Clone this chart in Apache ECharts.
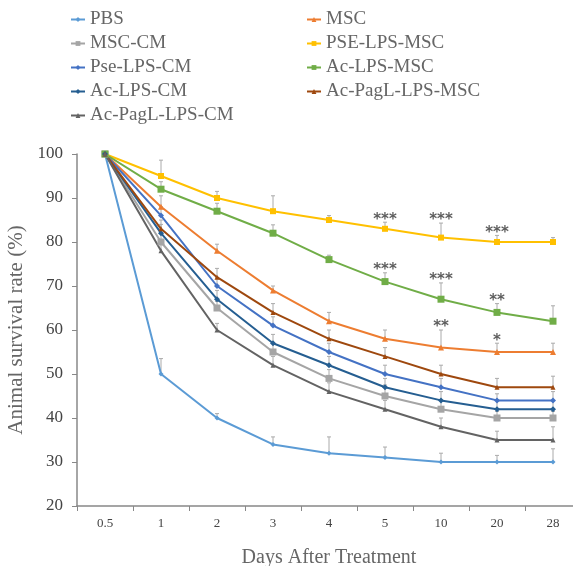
<!DOCTYPE html>
<html><head><meta charset="utf-8">
<script src="https://cdn.jsdelivr.net/npm/echarts@6/dist/echarts.min.js"></script>
<style>html,body{margin:0;padding:0;background:#fff}#c{width:573px;height:566px}</style>
</head><body><div id="c"></div>
<script>
const days = ['0.5','1','2','3','4','5','10','20','28'];
const yTicks = [20,30,40,50,60,70,80,90,100];

const pbs       = [100, 50, 40, 34, 32, 31, 30, 30, 30];
const msc       = [100, 88, 78, 69, 62, 58, 56, 55, 55];
const mscCm     = [100, 80, 65, 55, 49, 45, 42, 40, 40];
const pseLpsMsc = [100, 95, 90, 87, 85, 83, 81, 80, 80];
const pseLpsCm  = [100, 86, 70, 61, 55, 50, 47, 44, 44];
const acLpsMsc  = [100, 92, 87, 82, 76, 71, 67, 64, 62];
const acLpsCm   = [100, 82, 67, 57, 52, 47, 44, 42, 42];
const acPagLMsc = [100, 83, 72, 64, 58, 54, 50, 47, 47];
const acPagLCm  = [100, 78, 60, 52, 46, 42, 38, 35, 35];

const pbsErr       = [0, 3.5, 1, 1.7, 3.7, 2.4, 2, 1.5, 3];
const mscErr       = [0, 2.5, 1.5, 1, 2, 2, 4, 2, 2];
const mscCmErr     = [0, 2, 1.5, 2, 2, 2.5, 2, 1.5, 1.5];
const pseLpsMscErr = [0, 3.6, 1.5, 3.5, 1, 1.5, 3.3, 1.5, 1];
const pseLpsCmErr  = [0, 2, 2, 2, 2, 2, 2, 1.5, 2];
const acLpsMscErr  = [0, 1.7, 1.8, 1.9, 1, 2, 3.7, 2, 3.5];
const acLpsCmErr   = [0, 2, 2, 2, 2, 2, 2, 2, 2];
const acPagLMscErr = [0, 2, 2, 2, 2, 2, 2, 2, 2.5];
const acPagLCmErr  = [0, 2, 1.5, 2, 2, 2, 2, 2, 3];

const pseLpsMscStars = ['', '', '', '', '', '***', '***', '***', ''];
const acLpsMscStars  = ['', '', '', '', '', '***', '***', '**', ''];
const mscStars       = ['', '', '', '', '', '', '**', '*', ''];

const groups = [
  {name:'PBS', v:pbs, e:pbsErr, color:'#5b9bd5', sym:'diamond', size:5},
  {name:'MSC', v:msc, e:mscErr, color:'#ed7d31', sym:'triangle', size:6},
  {name:'MSC-CM', v:mscCm, e:mscCmErr, color:'#a5a5a5', sym:'rect', size:7},
  {name:'PSE-LPS-MSC', v:pseLpsMsc, e:pseLpsMscErr, color:'#ffc000', sym:'rect', size:6},
  {name:'Pse-LPS-CM', v:pseLpsCm, e:pseLpsCmErr, color:'#4472c4', sym:'diamond', size:6},
  {name:'Ac-LPS-MSC', v:acLpsMsc, e:acLpsMscErr, color:'#70ad47', sym:'rect', size:7},
  {name:'Ac-LPS-CM', v:acLpsCm, e:acLpsCmErr, color:'#255e91', sym:'diamond', size:6},
  {name:'Ac-PagL-LPS-MSC', v:acPagLMsc, e:acPagLMscErr, color:'#9e480e', sym:'triangle', size:5},
  {name:'Ac-PagL-LPS-CM', v:acPagLCm, e:acPagLCmErr, color:'#636363', sym:'triangle', size:5}
];
const starSets = [
  {v:pseLpsMsc, e:pseLpsMscErr, s:pseLpsMscStars},
  {v:acLpsMsc, e:acLpsMscErr, s:acLpsMscStars},
  {v:msc, e:mscErr, s:mscStars}
];

const font = 'Liberation Serif';
const series = [];
groups.forEach(g => {
  series.push({
    name: g.name + ' SD', type: 'custom', z: 1,
    data: g.v.map((v, i) => [i, v, g.e[i]]),
    encode: {x: 0, y: 1},
    renderItem: function (params, api) {
      const err = api.value(2);
      if (!err) return null;
      const p0 = api.coord([api.value(0), api.value(1)]);
      const p1 = api.coord([api.value(0), api.value(1) + err]);
      const st = {stroke: '#aaa', lineWidth: 1};
      return {type: 'group', children: [
        {type: 'line', shape: {x1: p0[0], y1: p0[1], x2: p1[0], y2: p1[1]}, style: st},
        {type: 'line', shape: {x1: p1[0] - 2, y1: p1[1], x2: p1[0] + 2, y2: p1[1]}, style: st}
      ]};
    }
  });
});
groups.forEach(g => {
  series.push({
    name: g.name, type: 'line', data: g.v, z: 3,
    symbol: g.sym, symbolSize: g.size, showSymbol: true,
    lineStyle: {color: g.color, width: 2},
    itemStyle: {color: g.color}
  });
});
starSets.forEach((st, k) => {
  series.push({
    name: 'stars' + k, type: 'scatter', symbolSize: 0, z: 4,
    data: st.v.map((v, i) => [i, v + st.e[i], st.s[i]]).filter(d => d[2]),
    label: {show: true, position: 'top', distance: -5, formatter: p => p.data[2],
      color: '#333', fontSize: 15, fontWeight: 'bold', fontFamily: 'DejaVu Sans'}
  });
});

const legendText = {fontFamily: font, fontSize: 19, color: '#666', lineHeight: 19};
const chart = echarts.init(document.getElementById('c'));
chart.setOption({
  animation: false,
  backgroundColor: '#fff',
  legend: [
    {data: ['PBS','MSC-CM','Pse-LPS-CM','Ac-LPS-CM','Ac-PagL-LPS-CM'], orient: 'vertical',
     left: 70, top: 10, itemGap: 5, itemWidth: 14, itemHeight: 6, textStyle: legendText, padding: 0},
    {data: ['MSC','PSE-LPS-MSC','Ac-LPS-MSC','Ac-PagL-LPS-MSC'], orient: 'vertical',
     left: 306, top: 10, itemGap: 5, itemWidth: 14, itemHeight: 6, textStyle: legendText, padding: 0}
  ],
  grid: {left: 77, top: 154, height: 352, width: 504, outerBoundsMode: 'none', containLabel: false},
  xAxis: {
    type: 'category', data: days, boundaryGap: true,
    name: 'Days After Treatment', nameLocation: 'middle', nameGap: 42,
    nameTextStyle: {fontFamily: font, fontSize: 20, color: '#666'},
    axisLine: {lineStyle: {color: '#888', width: 1.5}},
    axisTick: {show: true, alignWithLabel: false, length: 5, lineStyle: {color: '#888'}},
    axisLabel: {fontFamily: font, fontSize: 13, color: '#444', margin: 11}
  },
  yAxis: {
    type: 'value', min: 20, max: 100, interval: 10,
    name: 'Animal survival rate (%)', nameLocation: 'middle', nameGap: 41, nameRotate: 90,
    nameTextStyle: {fontFamily: font, fontSize: 21, color: '#666'},
    axisLine: {show: true, lineStyle: {color: '#888', width: 1.5}},
    axisTick: {show: true, length: 5, lineStyle: {color: '#888'}},
    splitLine: {show: false},
    axisLabel: {fontFamily: font, fontSize: 17, color: '#444', margin: 14,
      formatter: v => yTicks.includes(v) ? String(v) : ''}
  },
  series: series
});
</script></body></html>
